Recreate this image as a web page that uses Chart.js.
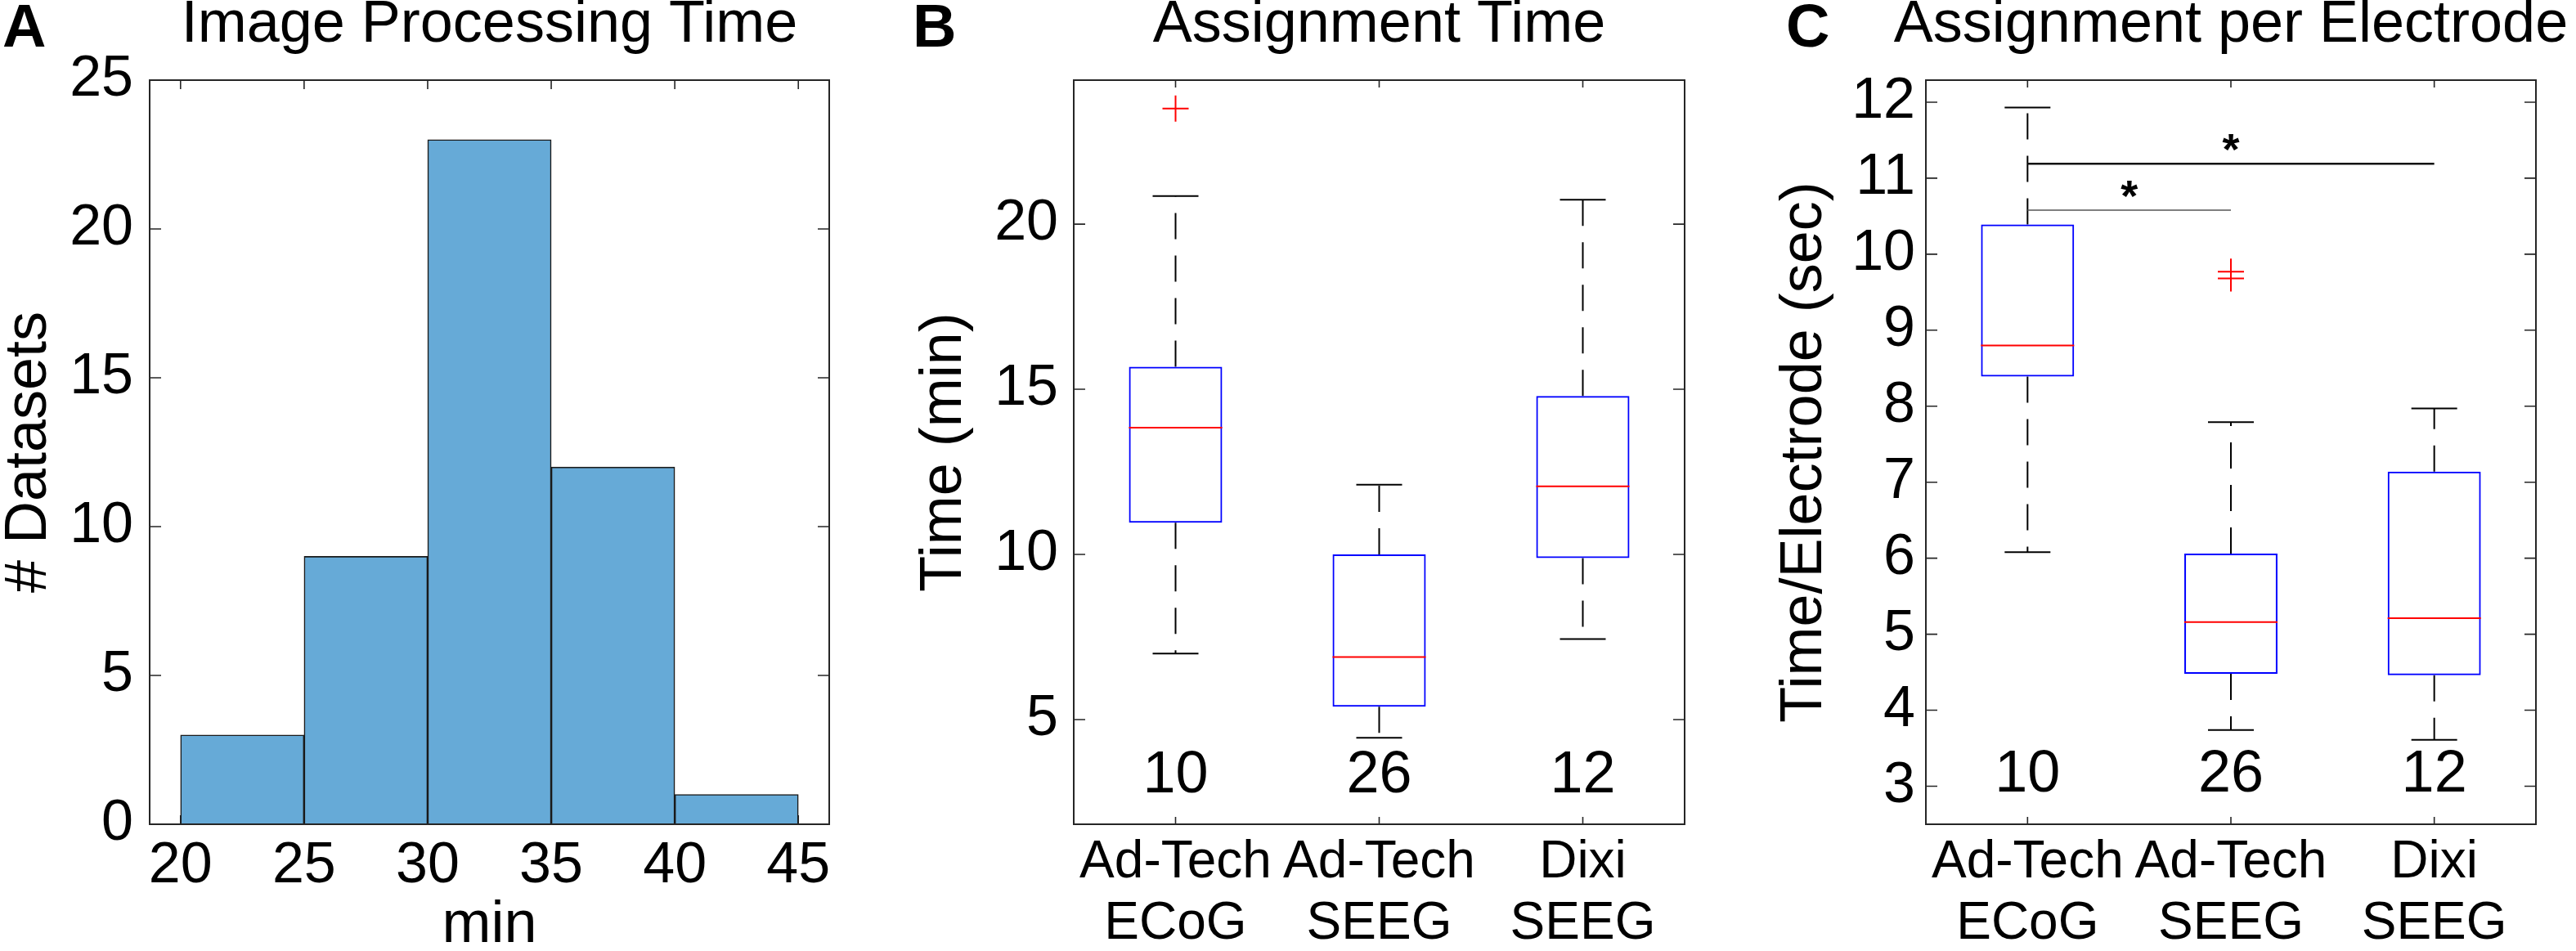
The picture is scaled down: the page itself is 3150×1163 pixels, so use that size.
<!DOCTYPE html>
<html>
<head>
<meta charset="utf-8">
<script src="https://cdn.jsdelivr.net/npm/chart.js@4.4.1/dist/chart.umd.min.js"></script>
<style>
  html, body { margin: 0; padding: 0; background: #ffffff; width: 3150px; height: 1163px; overflow: hidden; }
  body { position: relative; }
  canvas { position: absolute; top: 0; }
</style>
</head>
<body>
<canvas id="cA"></canvas>
<canvas id="cB"></canvas>
<canvas id="cC"></canvas>
<script>
// ---------------- DATA ----------------
// Panel A: histogram of image processing time
const histBinEdges = [20, 25, 30, 35, 40, 45];
const histCounts = [3, 9, 23, 12, 1];
const histXTicks = [20, 25, 30, 35, 40, 45];
const histYTicks = [0, 5, 10, 15, 20, 25];
const histXRange = [18.75, 46.25];
const histYRange = [0, 25];

// Panels B and C: box plots per electrode group
const groupLabels = [['Ad-Tech', 'ECoG'], ['Ad-Tech', 'SEEG'], ['Dixi', 'SEEG']];
const groupN = [10, 26, 12];
const groupXRange = [0.5, 3.5];

// B: assignment time (min)
const timeLow = [7.0, 4.45, 7.44];
const timeQ1 = [10.96, 5.39, 9.89];
const timeMedian = [13.84, 6.89, 12.06];
const timeQ3 = [15.68, 10.0, 14.8];
const timeHigh = [20.85, 12.11, 20.74];
const timeOutliers = [[23.5], [], []];
const timeYTicks = [5, 10, 15, 20];
const timeYRange = [1.83, 24.36];

// C: assignment time per electrode (sec)
const perElLow = [6.08, 3.74, 3.61];
const perElQ1 = [8.39, 4.48, 4.46];
const perElMedian = [8.8, 5.16, 5.21];
const perElQ3 = [10.39, 6.06, 7.14];
const perElHigh = [11.93, 7.79, 7.97];
const perElOutliers = [[], [9.77, 9.68], []];
const perElYTicks = [3, 4, 5, 6, 7, 8, 9, 10, 11, 12];
const perElYRange = [2.5, 12.29];
// significance bars: [group from, group to, level (sec)]
const sigPairs = [[1, 2, 10.58], [1, 3, 11.19]];

// ---------------- STYLE ----------------
const FONT = '"Liberation Sans", Arial, Helvetica, sans-serif';
const AXIS_COLOR = '#262626';
const TEXT_COLOR = '#000000';

// ---------------- PLUGINS ----------------
const frameTicks = {
  id: 'frameTicks',
  beforeDatasetsDraw(chart, args, opts) {
    const {ctx, chartArea: a} = chart;
    const x = chart.scales.x, y = chart.scales.y;
    ctx.save();
    ctx.strokeStyle = AXIS_COLOR;
    ctx.lineWidth = 1.6;
    ctx.beginPath();
    x.ticks.forEach(t => {
      const px = x.getPixelForValue(t.value);
      ctx.moveTo(px, a.bottom); ctx.lineTo(px, a.bottom - opts.xLen);
      ctx.moveTo(px, a.top); ctx.lineTo(px, a.top + opts.xLen);
    });
    y.ticks.forEach(t => {
      const py = y.getPixelForValue(t.value);
      ctx.moveTo(a.left, py); ctx.lineTo(a.left + opts.yLen, py);
      ctx.moveTo(a.right, py); ctx.lineTo(a.right - opts.yLen, py);
    });
    ctx.stroke();
    ctx.restore();
  },
  afterDatasetsDraw(chart) {
    const {ctx, chartArea: a} = chart;
    ctx.save();
    ctx.strokeStyle = AXIS_COLOR;
    ctx.lineWidth = 2;
    ctx.strokeRect(a.left, a.top, a.right - a.left, a.bottom - a.top);
    ctx.restore();
  }
};

const panelLetter = {
  id: 'panelLetter',
  afterDraw(chart, args, opts) {
    const ctx = chart.ctx;
    ctx.save();
    ctx.fillStyle = TEXT_COLOR;
    ctx.font = 'bold 74px ' + FONT;
    ctx.textAlign = 'left';
    ctx.textBaseline = 'alphabetic';
    ctx.fillText(opts.text, opts.x, opts.y);
    ctx.restore();
  }
};

const boxAnnotations = {
  id: 'boxAnnotations',
  afterDatasetsDraw(chart, args, opts) {
    const {ctx} = chart;
    const x = chart.scales.x, y = chart.scales.y;
    ctx.save();
    ctx.fillStyle = TEXT_COLOR;
    ctx.font = '72px ' + FONT;
    ctx.textAlign = 'center';
    ctx.textBaseline = 'middle';
    opts.counts.forEach((n, i) => {
      ctx.fillText(String(n), x.getPixelForValue(i + 1), y.getPixelForValue(opts.countY));
    });
    (opts.sig || []).forEach((s, k) => {
      const x1 = x.getPixelForValue(s[0]), x2 = x.getPixelForValue(s[1]);
      const py = y.getPixelForValue(s[2]);
      const st = opts.sigStyles[k];
      ctx.strokeStyle = st.color;
      ctx.lineWidth = st.width;
      ctx.beginPath(); ctx.moveTo(x1, py); ctx.lineTo(x2, py); ctx.stroke();
      ctx.font = 'bold 54px ' + FONT;
      ctx.textBaseline = 'alphabetic';
      ctx.fillStyle = TEXT_COLOR;
      ctx.fillText('*', x.getPixelForValue((s[0] + s[1]) / 2), py - 30 + 31);
    });
    ctx.restore();
  }
};

// ---------------- HELPERS ----------------
function fixWidth(w) {
  return s => { s.width = w; s.paddingTop = 0; s.paddingBottom = 0; };
}
function fixHeight(h) {
  return s => { s.height = h; s.paddingLeft = 0; s.paddingRight = 0; };
}
function setTicks(arr) {
  return s => { s.ticks = arr.map(v => ({value: v})); };
}
function dummyRight(w) {
  return {
    type: 'linear', position: 'right', display: true,
    ticks: {display: false}, grid: {display: false, drawTicks: false}, border: {display: false},
    afterFit: fixWidth(w)
  };
}
function placeCanvas(id, left, width, height) {
  const c = document.getElementById(id);
  c.width = width; c.height = height;
  c.style.left = left + 'px';
  c.style.width = width + 'px'; c.style.height = height + 'px';
  return c;
}
function titleOpts(text) {
  return {
    display: true, text, color: TEXT_COLOR, fullSize: true,
    font: {family: FONT, size: 72, weight: 'normal', lineHeight: 0.8},
    padding: {top: 2.2, bottom: 38.2}
  };
}

function boxDatasets(low, q1, med, q3, high, outl) {
  const xs = low.map((_, i) => i + 1);
  const whiskers = [];
  xs.forEach((x, i) => {
    whiskers.push({x, y: q3[i]}, {x, y: high[i]}, {x, y: null},
                  {x, y: q1[i]}, {x, y: low[i]}, {x, y: null});
  });
  const caps = [];
  xs.forEach((x, i) => { caps.push({x, y: high[i]}, {x, y: low[i]}); });
  const outPts = [];
  outl.forEach((arr, i) => arr.forEach(v => outPts.push({x: i + 1, y: v})));
  return [
    {type: 'line', data: whiskers, borderColor: '#000000', borderWidth: 2, borderDash: [32, 20],
     pointRadius: 0, spanGaps: false, fill: false, order: 5},
    {type: 'bar', data: xs.map((x, i) => ({x, y: [q1[i], q3[i]]})),
     backgroundColor: 'rgba(0,0,0,0)', borderColor: '#0000ff', borderWidth: 2, borderSkipped: false,
     barPercentage: 0.458, categoryPercentage: 1, order: 4},
    {type: 'scatter', data: caps, pointStyle: 'line', pointRadius: 28,
     pointBorderColor: '#000000', pointBorderWidth: 2, order: 3},
    {type: 'scatter', data: xs.map((x, i) => ({x, y: med[i]})), pointStyle: 'line', pointRadius: 57,
     pointBorderColor: '#ff0000', pointBorderWidth: 2, order: 2},
    {type: 'scatter', data: outPts, pointStyle: 'cross', pointRadius: 16,
     pointBorderColor: '#ff0000', pointBorderWidth: 2, order: 1}
  ];
}

function boxChart(id, left, width, yWidth, rightWidth, title, yTitle, yTitlePad, yTickPad,
                  yRange, yTicks, sets, countY, letter, letterX, sig, sigStyles) {
  const c = placeCanvas(id, left, width, 1163);
  return new Chart(c, {
    type: 'bar',
    data: {datasets: sets},
    options: {
      responsive: false, animation: false, events: [],
      layout: {padding: 0},
      scales: {
        x: {
          type: 'linear', offset: false, min: groupXRange[0], max: groupXRange[1],
          afterBuildTicks: setTicks([1, 2, 3]),
          afterFit: fixHeight(155),
          grid: {display: false, drawTicks: false}, border: {display: false},
          ticks: {
            autoSkip: false, maxRotation: 0, minRotation: 0, padding: 10, color: TEXT_COLOR,
            font: {family: FONT, size: 64, lineHeight: 1.17},
            callback: v => groupLabels[Math.round(v) - 1]
          }
        },
        y: {
          type: 'linear', position: 'left', min: yRange[0], max: yRange[1],
          afterBuildTicks: setTicks(yTicks),
          afterFit: fixWidth(yWidth),
          grid: {display: false, drawTicks: false}, border: {display: false},
          ticks: {autoSkip: false, padding: yTickPad, color: TEXT_COLOR, font: {family: FONT, size: 70}},
          title: {display: true, text: yTitle, color: TEXT_COLOR,
                  font: {family: FONT, size: 72, lineHeight: 1}, padding: {top: yTitlePad, bottom: 0}}
        },
        yR: dummyRight(rightWidth)
      },
      plugins: {
        legend: {display: false}, tooltip: {enabled: false},
        title: titleOpts(title),
        frameTicks: {xLen: 9, yLen: 14},
        panelLetter: {text: letter, x: letterX, y: 57},
        boxAnnotations: {counts: groupN, countY, sig, sigStyles}
      }
    },
    plugins: [frameTicks, panelLetter, boxAnnotations]
  });
}

// ---------------- PANEL A ----------------
(function () {
  const c = placeCanvas('cA', 0, 1197, 1163);
  const centers = histCounts.map((_, i) => (histBinEdges[i] + histBinEdges[i + 1]) / 2);
  new Chart(c, {
    type: 'bar',
    data: {
      datasets: [{
        data: centers.map((x, i) => ({x, y: histCounts[i]})),
        backgroundColor: 'rgb(102,170,215)', borderColor: '#1a1a1a', borderWidth: 1.6,
        barPercentage: 1, categoryPercentage: 1
      }]
    },
    options: {
      responsive: false, animation: false, events: [],
      layout: {padding: 0},
      scales: {
        x: {
          type: 'linear', offset: false, min: histXRange[0], max: histXRange[1],
          afterBuildTicks: setTicks(histXTicks),
          afterFit: fixHeight(155),
          grid: {display: false, drawTicks: false}, border: {display: false},
          ticks: {autoSkip: false, maxRotation: 0, minRotation: 0, padding: 17, color: TEXT_COLOR,
                  font: {family: FONT, size: 70, lineHeight: 1}},
          title: {display: true, text: 'min', color: TEXT_COLOR,
                  font: {family: FONT, size: 72, lineHeight: 0.8}, padding: {top: 0, bottom: 2.2}}
        },
        y: {
          type: 'linear', position: 'left', min: histYRange[0], max: histYRange[1],
          afterBuildTicks: setTicks(histYTicks),
          afterFit: fixWidth(183),
          grid: {display: false, drawTicks: false}, border: {display: false},
          ticks: {autoSkip: false, padding: 20, color: TEXT_COLOR, font: {family: FONT, size: 70}},
          title: {display: true, text: '# Datasets', color: TEXT_COLOR,
                  font: {family: FONT, size: 72, lineHeight: 1}, padding: {top: 0, bottom: 0}}
        },
        yR: dummyRight(183)
      },
      plugins: {
        legend: {display: false}, tooltip: {enabled: false},
        title: titleOpts('Image Processing Time'),
        frameTicks: {xLen: 11, yLen: 14},
        panelLetter: {text: 'A', x: 3, y: 57}
      }
    },
    plugins: [frameTicks, panelLetter]
  });
})();

// ---------------- PANEL B ----------------
boxChart('cB', 1050, 1273, 263, 263, 'Assignment Time', 'Time (min)', 69, 19,
  timeYRange, timeYTicks,
  boxDatasets(timeLow, timeQ1, timeMedian, timeQ3, timeHigh, timeOutliers),
  3.29, 'B', 66, [], []);

// ---------------- PANEL C ----------------
boxChart('cC', 2100, 1256, 255, 255, 'Assignment per Electrode', 'Time/Electrode (sec)', 71, 13,
  perElYRange, perElYTicks,
  boxDatasets(perElLow, perElQ1, perElMedian, perElQ3, perElHigh, perElOutliers),
  3.14, 'C', 84, sigPairs,
  [{color: '#555555', width: 1.6}, {color: '#111111', width: 2.6}]);
</script>
</body>
</html>
